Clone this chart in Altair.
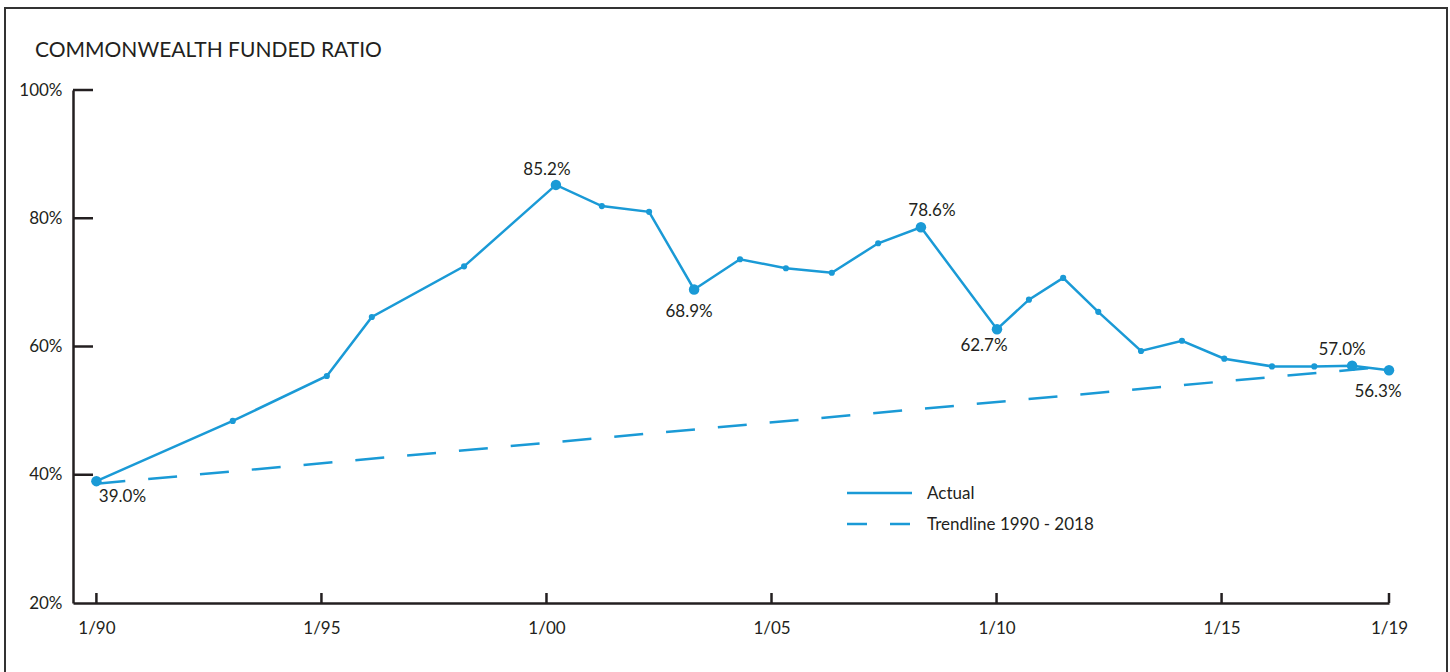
import altair as alt
import pandas as pd

# Commonwealth funded ratio, valuation dates as fractional years
years = [1990.0, 1993.03, 1995.12, 1996.12, 1998.17, 2000.21, 2001.23, 2002.28,
         2003.28, 2004.30, 2005.32, 2006.34, 2007.37, 2008.32, 2010.01, 2010.72,
         2011.48, 2012.26, 2013.21, 2014.12, 2015.06, 2016.12, 2017.06, 2017.90,
         2018.72]
ratios = [39.0, 48.4, 55.4, 64.6, 72.5, 85.2, 81.9, 81.0,
          68.9, 73.6, 72.2, 71.5, 76.1, 78.6, 62.7, 67.3,
          70.7, 65.4, 59.3, 60.9, 58.1, 56.9, 56.9, 57.0,
          56.3]
labeled_years = [1990.0, 2000.21, 2003.28, 2008.32, 2010.01, 2017.90, 2018.72]

# Linear trend 1990 - 2018
trend_years = [1990.0, 2018.72]
trend_ratios = [38.6, 56.9]

y_ticks = [20, 40, 60, 80, 100]
x_ticks = [1990, 1995, 2000, 2005, 2010, 2015, 2018.72]
x_tick_labels = ["1/90", "1/95", "1/00", "1/05", "1/10", "1/15", "1/19"]
legend_labels = ["Actual", "Trendline 1990 - 2018"]

BLUE = "#1a9ad6"
INK = "#231f20"
FONT = "Lato"
FS = 17

W, H = 1316, 513

df = pd.DataFrame({"year": years, "ratio": ratios})
df["big"] = df["year"].isin(labeled_years)
df["label"] = df["ratio"].map(lambda v: f"{v:.1f}%")
trend_df = pd.DataFrame({"year": trend_years, "ratio": trend_ratios})
one = pd.DataFrame({"k": [0]})

x_scale = alt.Scale(domain=[1989.48, 2018.72], nice=False, zero=False)
y_scale = alt.Scale(domain=[20, 100], nice=False, zero=False)

x_axis = alt.Axis(
    values=x_ticks,
    labelExpr=f"{x_tick_labels!r}[indexof({x_ticks!r}, datum.value)]",
    ticks=False, grid=False, title=None,
    domainColor=INK, domainWidth=2.5,
    labelFont=FONT, labelFontSize=FS, labelColor=INK,
    labelPadding=17, labelFlush=False, labelOverlap=False,
)
y_axis = alt.Axis(
    values=y_ticks,
    labelExpr="datum.value + '%'",
    ticks=False, grid=False, title=None,
    domainColor=INK, domainWidth=2.5,
    labelFont=FONT, labelFontSize=FS, labelColor=INK,
    labelPadding=11, labelFlush=False, labelOverlap=False,
)

X = alt.X("year:Q", scale=x_scale, axis=x_axis)
Y = alt.Y("ratio:Q", scale=y_scale, axis=y_axis)

trend = alt.Chart(trend_df).mark_line(
    color=BLUE, strokeWidth=2.5, strokeDash=[29, 23]
).encode(x=X, y=Y)

actual = alt.Chart(df).mark_line(color=BLUE, strokeWidth=2.5).encode(x=X, y=Y)

points = alt.Chart(df).mark_circle(color=BLUE, opacity=1).encode(
    x=X, y=Y,
    size=alt.condition("datum.big", alt.value(110), alt.value(38)),
)

# Value labels beside the highlighted points: (dx, dy) offsets
label_offsets = [(26, 16), (-9, -15), (-5, 23), (11, -16), (-13, 17), (-10, -16), (-11, 22)]
label_layers = []
for yr, (dx, dy) in zip(labeled_years, label_offsets):
    label_layers.append(
        alt.Chart(df).transform_filter(f"datum.year == {yr}").mark_text(
            font=FONT, fontSize=FS, color=INK, align="center", baseline="middle",
            dx=dx, dy=dy,
        ).encode(x=X, y=Y, text="label:N")
    )

# Inward tick marks
y_tick_df = pd.DataFrame({"ratio": y_ticks[1:]})
y_tick_rules = alt.Chart(y_tick_df).mark_rule(color=INK, strokeWidth=2.5).encode(
    y=Y, x=alt.value(0), x2=alt.value(20)
)
x_tick_df = pd.DataFrame({"year": x_ticks})
x_tick_rules = alt.Chart(x_tick_df).mark_rule(color=INK, strokeWidth=2.5).encode(
    x=X, y=alt.value(H - 10), y2=alt.value(H)
)

# Legend
legend_solid = alt.Chart(one).mark_rule(color=BLUE, strokeWidth=2.5).encode(
    x=alt.value(774), x2=alt.value(839), y=alt.value(403)
)
legend_dash = alt.Chart(one).mark_rule(color=BLUE, strokeWidth=2.5, strokeDash=[20, 23]).encode(
    x=alt.value(774), x2=alt.value(839), y=alt.value(434)
)
legend_texts = [
    alt.Chart(one).mark_text(
        text=txt, font=FONT, fontSize=FS, color=INK, align="left", baseline="middle"
    ).encode(x=alt.value(854), y=alt.value(ly))
    for txt, ly in zip(legend_labels, [404, 435])
]

title = alt.Chart(one).mark_text(
    text="COMMONWEALTH FUNDED RATIO", font=FONT, fontSize=21, color=INK,
    align="left", baseline="alphabetic",
).encode(x=alt.value(-38), y=alt.value(-33))

frame = alt.Chart(one).mark_rect(fillOpacity=0, stroke="#333333", strokeWidth=2).encode(
    x=alt.value(-68), x2=alt.value(1374), y=alt.value(-82), y2=alt.value(700)
)

chart = alt.layer(
    frame, title, trend, actual, points, *label_layers,
    y_tick_rules, x_tick_rules, legend_solid, legend_dash, *legend_texts,
).properties(
    width=W, height=H,
    padding={"left": 73, "top": 90, "right": 61, "bottom": 69},
    autosize=alt.AutoSizeParams(type="none"),
    background="white",
).configure_view(stroke=None)

chart.save("out.html", embed_options={"renderer": "svg", "actions": False})
